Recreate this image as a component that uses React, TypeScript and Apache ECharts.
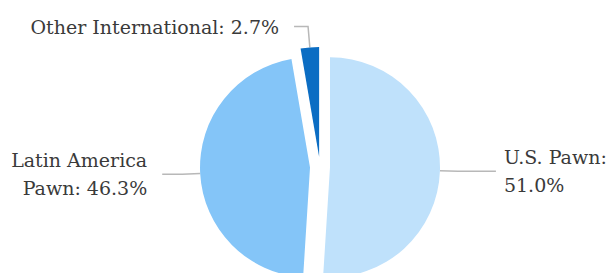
import React, { useEffect, useRef } from "react";
import * as echarts from "echarts";

const categories = ["U.S. Pawn", "Latin America Pawn", "Other International"];
const shares = [51.0, 46.3, 2.7];
const sliceColors = ["#bfe1fb", "#84c5f8", "#0b6dc3"];
// words kept on the first label line (0 = single line)
const wordsOnFirstLine = [2, 2, 0];

const labelLineLen = [18, 18, 21];
const labelLineLen2 = [38, 20, 14];
const labelGap = [8, 15, 15];

const FONT = "DejaVu Serif";

function labelText(name: string, value: number, idx: number): string {
  const full = `${name}: ${value.toFixed(1)}%`;
  const n = wordsOnFirstLine[idx];
  if (!n) return full;
  const words = full.split(" ");
  return words.slice(0, n).join(" ") + "\n" + words.slice(n).join(" ");
}

export default function App() {
  const ref = useRef<HTMLDivElement>(null);
  useEffect(() => {
    if (!ref.current) return;
    const chart = echarts.init(ref.current, undefined, { renderer: "svg" });
    const data = categories.map((name, i) => ({
      name,
      value: shares[i],
      selected: true,
      itemStyle: { color: sliceColors[i] },
      select: { itemStyle: { color: sliceColors[i] } },
      emphasis: { disabled: true },
      label: {
        distanceToLabelLine: labelGap[i],
        formatter: (p: any) => labelText(p.name, p.value, i),
      },
      labelLine: { length: labelLineLen[i], length2: labelLineLen2[i] },
    }));
    chart.setOption({
      animation: false,
      backgroundColor: "#ffffff",
      textStyle: { fontFamily: FONT },
      series: [
        {
          type: "pie",
          center: [320, 167],
          radius: 110,
          startAngle: 90,
          clockwise: true,
          selectedMode: "multiple",
          selectedOffset: 10,
          avoidLabelOverlap: false,
          label: {
            show: true,
            position: "outside",
            color: "#3a3a3a",
            fontFamily: FONT,
            fontSize: 19,
            lineHeight: 28,
            bleedMargin: 0,
          },
          labelLine: {
            show: true,
            lineStyle: { color: "#b8b8b8", width: 1.5 },
          },
          itemStyle: { borderWidth: 0 },
          data,
        },
      ],
    });
    return () => chart.dispose();
  }, []);
  return (
    <div
      ref={ref}
      style={{ position: "fixed", left: 0, top: 0, width: 615, height: 273 }}
    />
  );
}
